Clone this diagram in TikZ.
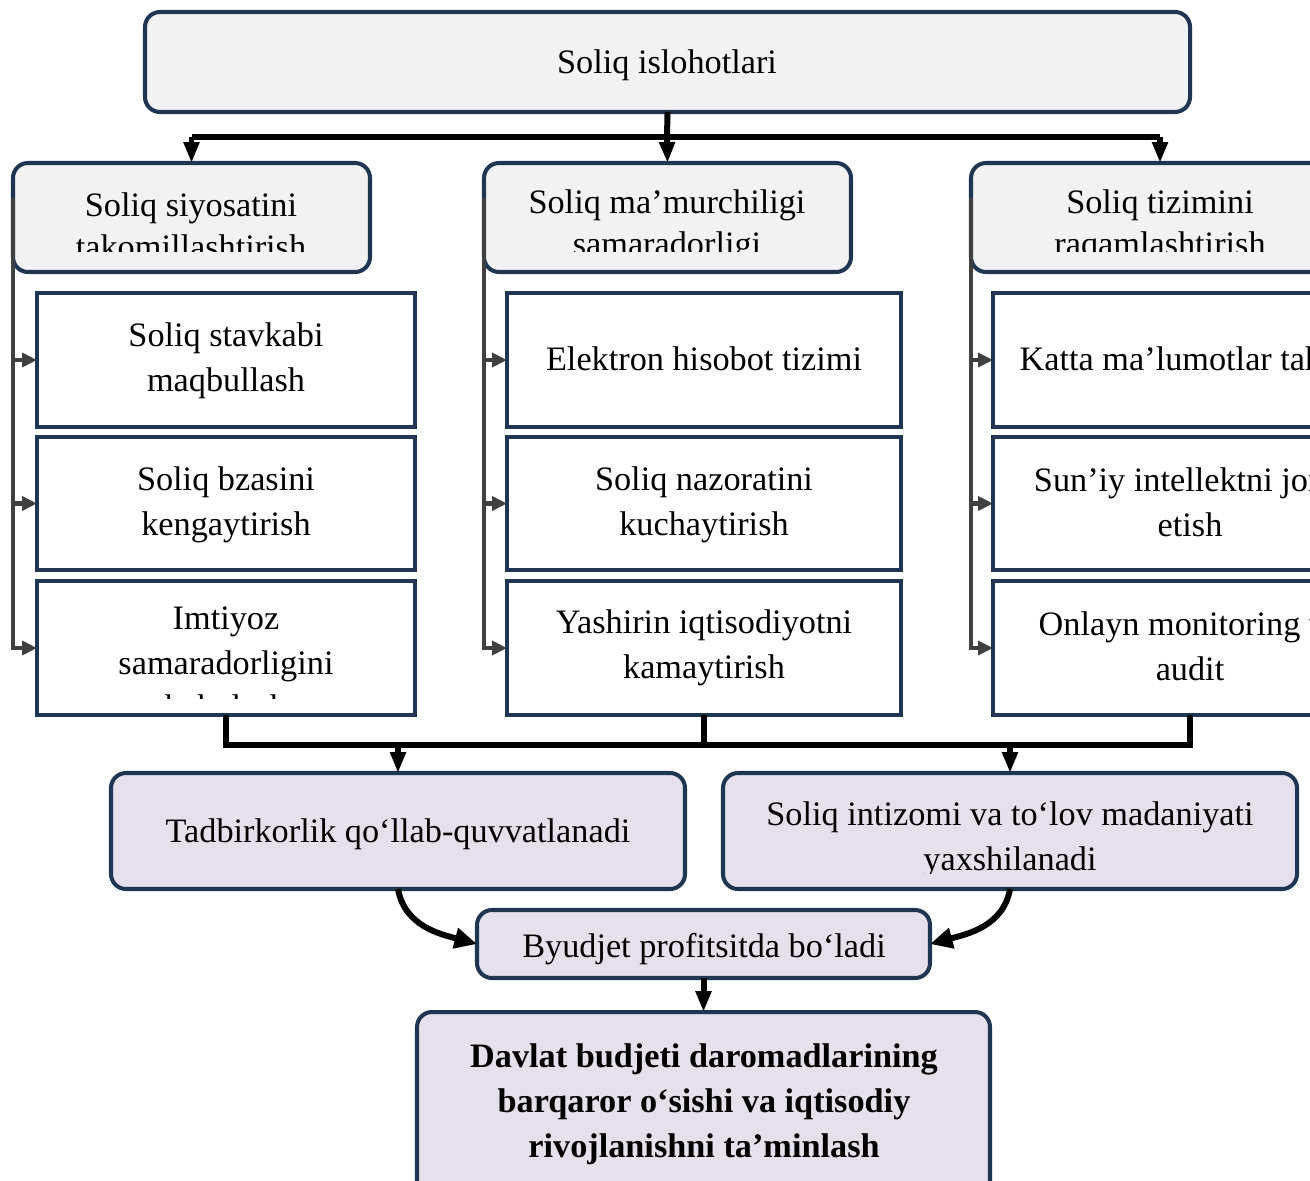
\documentclass[tikz,border=0pt]{standalone}
\usepackage{fontspec}
\setmainfont{Liberation Serif}
\usetikzlibrary{arrows.meta,calc}
\definecolor{boxline}{HTML}{1F3652}
\definecolor{headfill}{HTML}{F2F2F2}
\definecolor{resfill}{HTML}{E5E0EC}
\definecolor{sidegray}{HTML}{404040}
\newcommand{\cell}[6]{\node[#6, minimum width={(#4-#2)*0.02cm}, minimum height={(#5-#3)*0.02cm}] (#1) at ({(#2+#4)/2},{(#3+#5)/2}) {};}
\newcommand{\labl}[5][labl]{\node[#1] (#2) at (#3,#4) {#5};}
\newcommand{\cutlabl}[7][labl]{\begin{scope}
    \clip (#6.north west) rectangle ($(#6.south east)+(0,-#7)$);
    \labl[#1]{#2}{#3}{#4}{#5}
  \end{scope}}
\tikzset{
  topbox/.style={draw=boxline, line width=2.3pt, fill=headfill, rounded corners=0.3cm, inner sep=0pt, outer sep=0pt},
  itembox/.style={draw=boxline, line width=2.3pt, fill=white, inner sep=0pt, outer sep=0pt},
  resbox/.style={topbox, fill=resfill},
  labl/.style={font=\fontsize{19.5}{25.5}\selectfont, align=center, inner sep=0pt},
  headlabl/.style={labl, font=\fontsize{19.5}{23.8}\selectfont},
  bar/.style={line width=3.4pt, black},
  bararrow/.style={bar, -{Triangle[length=0.42cm,width=0.3cm]}},
  curvearrow/.style={bar, -{Triangle[length=0.45cm,width=0.4cm]}},
  side/.style={line width=2.8pt, sidegray, -{Triangle[length=0.3cm,width=0.28cm]}},
}
\begin{document}
\begin{tikzpicture}[x=0.02cm, y=-0.02cm]
        \useasboundingbox (0,0) rectangle (1310,1180);
        \clip (0,0) rectangle (1310,1180);

        % top
        \cell{top}{145}{12}{1190}{112}{topbox}
        % headers
        \cell{h1}{13}{163}{370}{272}{topbox}
        \cell{h2}{484}{163}{851}{272}{topbox}
        \cell{h3}{971}{163}{1349}{272}{topbox}
        % column 1
        \cell{i11}{37}{293}{415}{427}{itembox}
        \cell{i12}{37}{437}{415}{570}{itembox}
        \cell{i13}{37}{581}{415}{715}{itembox}
        % column 2
        \cell{i21}{507}{293}{901}{427}{itembox}
        \cell{i22}{507}{437}{901}{570}{itembox}
        \cell{i23}{507}{581}{901}{715}{itembox}
        % column 3
        \cell{i31}{993}{293}{1387}{427}{itembox}
        \cell{i32}{993}{437}{1387}{570}{itembox}
        \cell{i33}{993}{581}{1387}{715}{itembox}
        % results
        \cell{b1}{111}{773}{685}{889}{resbox}
        \cell{b2}{723}{773}{1297}{889}{resbox}
        \cell{b3}{477}{910}{930}{978}{resbox}
        \cell{b4}{417}{1012}{990}{1210}{resbox}

        % labels
        \labl{ttop}{667}{65}{Soliq islohotlari}
        \cutlabl[headlabl]{th1}{191}{226}{Soliq siyosatini\\takomillashtirish}{h1}{21}
        \cutlabl[headlabl]{th2}{667}{226}{Soliq ma’murchiligi\\samaradorligi}{h2}{21}
        \cutlabl[headlabl]{th3}{1160}{226}{Soliq tizimini\\raqamlashtirish}{h3}{21}

        \labl{t11}{226}{361}{Soliq stavkabi\\maqbullash}
        \labl{t12}{226}{505}{Soliq bzasini\\kengaytirish}
        \cutlabl{t13}{226}{663}{Imtiyoz\\samaradorligini\\baholash}{i13}{17}
        \labl{t21}{704}{359}{Elektron hisobot tizimi}
        \labl{t22}{704}{505}{Soliq nazoratini\\kuchaytirish}
        \labl{t23}{704}{648}{Yashirin iqtisodiyotni\\kamaytirish}
        \labl{t31}{1190}{359}{Katta ma’lumotlar tahlili}
        \labl{t32}{1190}{502}{Sun’iy intellektni joriy\\etish}
        \labl{t33}{1190}{646}{Onlayn monitoring va\\audit}

        \labl{tb1}{398}{834}{Tadbirkorlik qo‘llab-quvvatlanadi}
        \cutlabl{tb2}{1010}{840}{Soliq intizomi va to‘lov madaniyati\\yaxshilanadi}{b2}{16}
        \labl{tb3}{704}{949}{Byudjet profitsitda bo‘ladi}
        \labl[labl, font=\fontsize{19.5}{25.5}\selectfont\bfseries]{tb4}{704}{1104}{Davlat budjeti daromadlarining\\barqaror o‘sishi va iqtisodiy\\rivojlanishni ta’minlash}

        % top connectors
        \coordinate (tj) at (667,137);
        \draw[bar] (top.south) -- (tj);
        \draw[bar] (h1.north |- tj) -- (h3.north |- tj);
        \draw[bararrow] (h1.north |- tj) -- (h1.north);
        \draw[bararrow] (tj) -- (h2.north);
        \draw[bararrow] (h3.north |- tj) -- (h3.north);

        % side arrows
        \draw[side] ($(h1.west)+(0,-20)$) |- (i11.west);
        \draw[side] ($(h1.west)+(0,-20)$) |- (i12.west);
        \draw[side] ($(h1.west)+(0,-20)$) |- (i13.west);
        \draw[side] ($(h2.west)+(0,-20)$) |- (i21.west);
        \draw[side] ($(h2.west)+(0,-20)$) |- (i22.west);
        \draw[side] ($(h2.west)+(0,-20)$) |- (i23.west);
        \draw[side] ($(h3.west)+(0,-20)$) |- (i31.west);
        \draw[side] ($(h3.west)+(0,-20)$) |- (i32.west);
        \draw[side] ($(h3.west)+(0,-20)$) |- (i33.west);

        % bottom connectors
        \coordinate (bj) at (704,745);
        \draw[bar] (i13.south) |- (i33.south |- bj) -- (i33.south);
        \draw[bar] (i23.south) -- (bj);
        \draw[bararrow] (b1.north |- bj) -- (b1.north);
        \draw[bararrow] (b2.north |- bj) -- (b2.north);
        \draw[curvearrow] (b1.south) to[out=-80, in=165] (b3.west);
        \draw[curvearrow] (b2.south) to[out=-100, in=15] (b3.east);
        \draw[bararrow] (b3.south) -- (b4.north);
    \end{tikzpicture}
\end{document}
